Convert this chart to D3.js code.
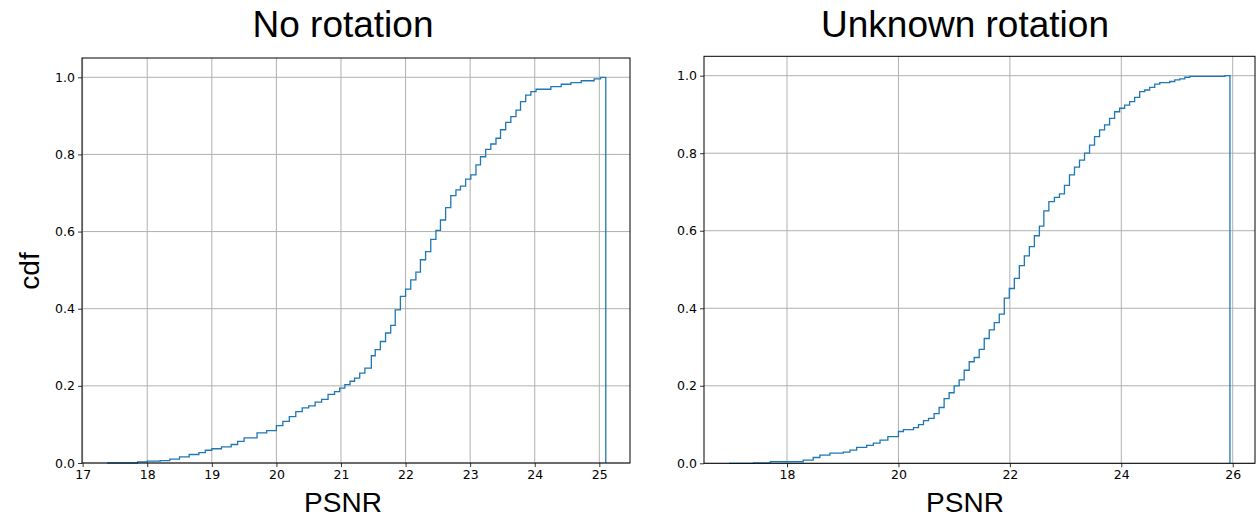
<!DOCTYPE html>
<html>
<head>
<meta charset="utf-8">
<script src="https://cdn.jsdelivr.net/npm/d3@7"></script>
<style>
  body { margin: 0; background: #fff; }
  svg text { fill: #000; }
</style>
</head>
<body>
<svg id="chart"></svg>
<script>
// left panel: step cdf, edge where each level starts
const leftPsnr = [17.38, 17.85, 18.0, 18.2, 18.35, 18.5, 18.65, 18.8, 18.9, 19.0, 19.15, 19.3, 19.4, 19.5, 19.7, 19.85,
  20.0, 20.1, 20.2, 20.3, 20.4, 20.5, 20.6, 20.7, 20.8, 20.9, 20.98, 21.06, 21.14, 21.21, 21.29, 21.37, 21.47, 21.53,
  21.61, 21.69, 21.77, 21.84, 21.92, 22.0, 22.08, 22.16, 22.23, 22.31, 22.39, 22.47, 22.54, 22.62, 22.70, 22.78, 22.85,
  22.93, 23.01, 23.09, 23.16, 23.24, 23.32, 23.40, 23.47, 23.55, 23.63, 23.71, 23.78, 23.86, 23.94, 24.02, 24.25, 24.41,
  24.56, 24.72, 24.92, 25.02, 25.10];
const leftCdf = [0, 0.003, 0.005, 0.006, 0.010, 0.016, 0.022, 0.027, 0.033, 0.037, 0.042, 0.048, 0.056, 0.065, 0.078, 0.084,
  0.097, 0.108, 0.120, 0.133, 0.143, 0.148, 0.158, 0.165, 0.178, 0.185, 0.194, 0.203, 0.212, 0.220, 0.233, 0.246, 0.278, 0.294,
  0.315, 0.337, 0.357, 0.397, 0.432, 0.451, 0.475, 0.495, 0.527, 0.548, 0.580, 0.603, 0.630, 0.662, 0.693, 0.708, 0.718,
  0.736, 0.747, 0.773, 0.794, 0.813, 0.827, 0.842, 0.864, 0.883, 0.898, 0.915, 0.937, 0.954, 0.963, 0.969, 0.976, 0.982,
  0.986, 0.991, 0.996, 1.0, 1.0];
const leftTicks = [17, 18, 19, 20, 21, 22, 23, 24, 25];
const leftDomain = [16.99, 25.475];

// right panel
const rightPsnr = [16.96, 17.40, 17.70, 18.29, 18.47, 18.59, 18.77, 19.01, 19.13, 19.25, 19.43, 19.55, 19.67, 19.81,
  20.0, 20.09, 20.27, 20.36, 20.45, 20.54, 20.64, 20.73, 20.82, 20.91, 21.0, 21.09, 21.18, 21.27, 21.36, 21.45, 21.54,
  21.63, 21.72, 21.81, 21.90, 21.99, 22.08, 22.17, 22.26, 22.35, 22.44, 22.53, 22.61, 22.70, 22.80, 22.89, 22.98, 23.07,
  23.16, 23.25, 23.34, 23.43, 23.52, 23.61, 23.70, 23.79, 23.88, 23.97, 24.06, 24.15, 24.24, 24.33, 24.42, 24.51, 24.60,
  24.69, 24.87, 24.96, 25.05, 25.14, 25.23, 25.86, 25.95];
const rightCdf = [0, 0.001, 0.004, 0.008, 0.015, 0.021, 0.026, 0.029, 0.034, 0.041, 0.046, 0.052, 0.060, 0.069,
  0.082, 0.087, 0.092, 0.100, 0.110, 0.116, 0.128, 0.144, 0.167, 0.182, 0.200, 0.215, 0.240, 0.262, 0.273, 0.294, 0.322,
  0.344, 0.363, 0.385, 0.426, 0.451, 0.477, 0.510, 0.535, 0.559, 0.587, 0.612, 0.651, 0.675, 0.686, 0.695, 0.717, 0.744,
  0.764, 0.782, 0.800, 0.821, 0.843, 0.860, 0.873, 0.890, 0.907, 0.916, 0.924, 0.933, 0.944, 0.959, 0.963, 0.970, 0.978,
  0.982, 0.985, 0.989, 0.992, 0.996, 0.998, 1.0, 1.0];
const rightTicks = [18, 20, 22, 24, 26];
const rightDomain = [16.51, 26.40];

const yTicks = [0.0, 0.2, 0.4, 0.6, 0.8, 1.0];

const svg = d3.select("#chart").attr("width", 1256).attr("height", 520);

function drawPanel(opt) {
  const x = d3.scaleLinear().domain(opt.domain).range([opt.left, opt.right]);
  const y = d3.scaleLinear().domain([0, 1.05]).range([opt.bottom, opt.top]);
  const g = svg.append("g");

  // grid
  g.append("g").selectAll("line").data(opt.ticks).enter().append("line")
    .attr("x1", d => x(d)).attr("x2", d => x(d))
    .attr("y1", opt.top).attr("y2", opt.bottom)
    .attr("stroke", "#b0b0b0").attr("stroke-width", 1);
  g.append("g").selectAll("line").data(yTicks).enter().append("line")
    .attr("x1", opt.left).attr("x2", opt.right)
    .attr("y1", d => y(d)).attr("y2", d => y(d))
    .attr("stroke", "#b0b0b0").attr("stroke-width", 1);

  // step curve
  const pts = opt.psnr.map((p, i) => [p, opt.cdf[i]]);
  pts.push([opt.psnr[opt.psnr.length - 1], 0]);
  const line = d3.line()
    .x(d => x(d[0]))
    .y(d => y(d[1]))
    .curve(d3.curveStepAfter);
  g.append("path")
    .datum(pts)
    .attr("fill", "none")
    .attr("stroke", "#1f77b4")
    .attr("stroke-width", 1.3)
    .attr("d", line);

  // axes
  const xAxis = g.append("g")
    .attr("transform", "translate(0," + opt.bottom + ")")
    .call(d3.axisBottom(x).tickValues(opt.ticks).tickFormat(d3.format("d")).tickSize(4).tickSizeOuter(0));
  const yAxis = g.append("g")
    .attr("transform", "translate(" + opt.left + ",0)")
    .call(d3.axisLeft(y).tickValues(yTicks).tickFormat(d3.format(".1f")).tickSize(4).tickSizeOuter(0));
  [xAxis, yAxis].forEach(a => {
    a.select(".domain").remove();
    a.selectAll("text").attr("font-family", "DejaVu Sans").attr("font-size", 12.5).attr("fill", "#000");
    a.selectAll(".tick line").attr("stroke", "#000").attr("stroke-width", 0.8);
  });

  // frame
  g.append("rect")
    .attr("x", opt.left).attr("y", opt.top)
    .attr("width", opt.right - opt.left).attr("height", opt.bottom - opt.top)
    .attr("fill", "none").attr("stroke", "#000").attr("stroke-width", 1);

  // title and x label
  g.append("text")
    .attr("x", opt.labelX).attr("y", 37)
    .attr("text-anchor", "middle")
    .attr("font-family", "Liberation Sans, Arial, sans-serif")
    .attr("font-size", 37)
    .text(opt.title);
  g.append("text")
    .attr("x", opt.labelX).attr("y", 512)
    .attr("text-anchor", "middle")
    .attr("font-family", "Liberation Sans, Arial, sans-serif")
    .attr("font-size", 28)
    .text("PSNR");
}

drawPanel({ psnr: leftPsnr, cdf: leftCdf, ticks: leftTicks, domain: leftDomain, title: "No rotation",
  left: 82, right: 630, top: 58, bottom: 463, labelX: 343 });
drawPanel({ psnr: rightPsnr, cdf: rightCdf, ticks: rightTicks, domain: rightDomain, title: "Unknown rotation",
  left: 704, right: 1255, top: 56.3, bottom: 463.3, labelX: 965 });

svg.append("text")
  .attr("transform", "translate(39,271) rotate(-90)")
  .attr("text-anchor", "middle")
  .attr("font-family", "Liberation Sans, Arial, sans-serif")
  .attr("font-size", 28)
  .text("cdf");
</script>
</body>
</html>
